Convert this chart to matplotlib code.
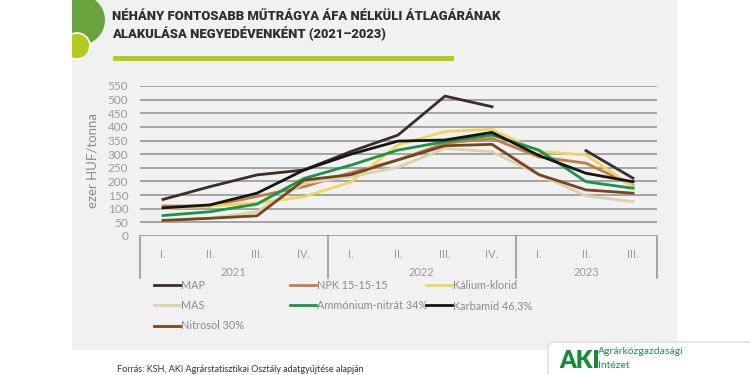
import numpy as np
import matplotlib
matplotlib.use("Agg")
import matplotlib.pyplot as plt
from matplotlib.patches import Rectangle, Circle, FancyBboxPatch
from matplotlib.transforms import blended_transform_factory

plt.rcParams["font.family"] = ["Lato", "DejaVu Sans"]

quarters = ["I.", "II.", "III.", "IV.", "I.", "II.", "III.", "IV.", "I.", "II.", "III."]
years = ["2021", "2022", "2023"]
year_bounds = [-0.5, 3.5, 7.5, 10.5]

nan = np.nan
map_vals = [134, 181, 224, 242, 310, 370, 513, 474, nan, 313, 212]
npk_vals = [110, 110, 145, 181, 232, 279, 340, 358, 290, 267, 185]
kalium_vals = [100, 110, 121, 144, 198, 334, 383, 391, 310, 297, 181]
mas_vals = [57, 65, 89, 193, 218, 252, 321, 309, 225, 147, 126]
ammonium_vals = [75, 89, 117, 211, 260, 315, 346, 370, 315, 199, 175]
karbamid_vals = [103, 114, 157, 242, 300, 348, 352, 380, 295, 230, 199]
nitrosol_vals = [57, 65, 74, 205, 225, 279, 331, 336, 225, 169, 157]

series = [
    ("MAP", map_vals, "#3d2c2c"),
    ("NPK 15-15-15", npk_vals, "#c47c48"),
    ("Kálium-klorid", kalium_vals, "#f2d45c"),
    ("MAS", mas_vals, "#ddd1ac"),
    ("Ammónium-nitrát 34%", ammonium_vals, "#17964a"),
    ("Karbamid 46,3%", karbamid_vals, "#151515"),
    ("Nitrosol 30%", nitrosol_vals, "#75461f"),
]

W, H = 750, 375
fig = plt.figure(figsize=(7.5, 3.75), dpi=100)
fig.patch.set_facecolor("white")

# background decorations on their own axes (pixel coordinates)
bg = fig.add_axes([0, 0, 1, 1], zorder=-5)
bg.set_xlim(0, W)
bg.set_ylim(H, 0)
bg.axis("off")
panel = Rectangle((72, 0), 605, 350, facecolor="#f1f1f1", edgecolor="none")
bg.add_patch(panel)
c1 = Circle((80, 20), 25, facecolor="#68a33c", edgecolor="none", zorder=2)
c2 = Circle((77, 46), 13, facecolor="#b5cb1c", edgecolor="white", lw=1.2, zorder=3)
for c in (c1, c2):
    bg.add_patch(c)
    c.set_clip_path(panel)
bg.add_patch(Rectangle((113, 56), 341, 5, facecolor="#b5cb1c", edgecolor="none"))
bg.add_patch(FancyBboxPatch((548, 342), 220, 60, boxstyle="round,pad=0,rounding_size=6",
                            facecolor="white", edgecolor="#dcdcdc", lw=1))
bg.text(559, 361, "AKI", fontsize=17, fontweight="heavy", color="#1a8a3a",
        va="center", ha="left")
bg.text(598, 351, "Agrárközgazdasági", fontsize=7.5, color="#2a8a45",
        va="center", ha="left")
bg.text(598, 366, "Intézet", fontsize=7.5, color="#2a8a45", va="center", ha="left")
bg.text(117, 370, "Forrás: KSH, AKI Agrárstatisztikai Osztály adatgyűjtése alapján",
        fontsize=6.5, color="#333333", va="center", ha="left")

# title
title_font = dict(fontsize=9.4, fontweight="heavy", color="#2e2e2e", va="center",
                  ha="left", family=["Roboto", "DejaVu Sans"])
bg.text(112, 17, "NÉHÁNY FONTOSABB MŰTRÁGYA ÁFA NÉLKÜLI ÁTLAGÁRÁNAK", **title_font)
bg.text(112, 34, "ALAKULÁSA NEGYEDÉVENKÉNT (2021–2023)", **title_font)

ax = fig.add_axes([139.5 / W, 1 - 236 / H, (656.5 - 139.5) / W, 150 / H])
ax.set_facecolor("none")
x = np.arange(len(quarters))
handles = {}
for name, vals, col in series:
    (ln,) = ax.plot(x, vals, color=col, lw=2, label=name, zorder=3)
    handles[name] = ln

ax.set_xlim(-0.5, 10.5)
ax.set_ylim(0, 550)
ax.set_yticks(np.arange(0, 551, 50))
ax.yaxis.grid(True, color="#8e8e8e", lw=1.1)
ax.set_axisbelow(True)
for s in ax.spines.values():
    s.set_visible(False)
ax.tick_params(axis="y", length=0, pad=8, labelsize=8.5, labelcolor="#9a9a9a")
ax.set_xticks(x)
ax.set_xticklabels(quarters)
ax.tick_params(axis="x", length=0, pad=9, labelsize=8, labelcolor="#9a9a9a")
ax.set_ylabel("ezer HUF/tonna", fontsize=9.5, color="#8a8a8a", labelpad=7)

trans = blended_transform_factory(ax.transData, ax.transAxes)
for b in year_bounds:
    ax.plot([b, b], [0, -0.28], color="#8e8e8e", lw=1.1, transform=trans, clip_on=False)
for i, yr in enumerate(years):
    mid = (year_bounds[i] + year_bounds[i + 1]) / 2
    ax.text(mid, -0.24, yr, transform=trans, ha="center", va="center",
            fontsize=8, color="#9a9a9a")

# legend, one column per legend so the columns are evenly spaced
columns = [["MAP", "MAS", "Nitrosol 30%"],
           ["NPK 15-15-15", "Ammónium-nitrát 34%"],
           ["Kálium-klorid", "Karbamid 46,3%"]]
col_x = [154, 290, 426]
for names, cx in zip(columns, col_x):
    lg = fig.legend([handles[n] for n in names], names, loc="upper left",
                    bbox_to_anchor=(cx / W, 1 - 280 / H), frameon=False, fontsize=7.8,
                    handlelength=2.4, handletextpad=0.1, labelspacing=0.85,
                    borderpad=0, borderaxespad=0)
    for t in lg.get_texts():
        t.set_color("#8a8a8a")

fig.savefig("out.png", dpi=100)
